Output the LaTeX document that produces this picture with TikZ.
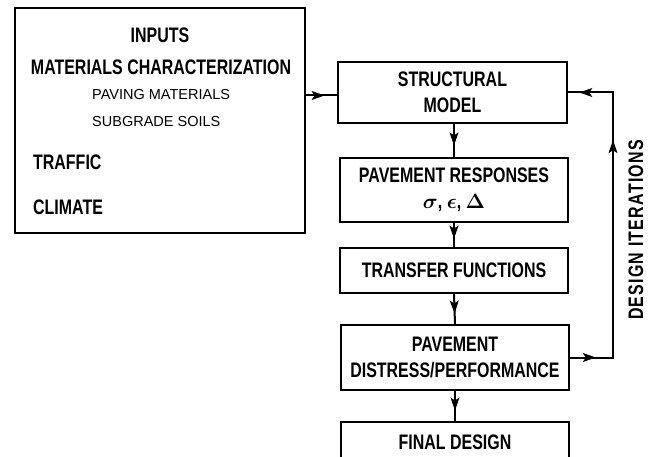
\documentclass[tikz,border=0pt]{standalone}
\usepackage{fontspec}
\setmainfont{Liberation Sans}
\newfontfamily\cond[FakeStretch=0.76]{Liberation Sans}
\usetikzlibrary{arrows.meta,decorations.markings,calc}
\tikzset{
  box/.style={draw,line width=2.2pt,rectangle,inner sep=0pt,align=center,
    font=\cond\bfseries\fontsize{21}{26}\selectfont},
  big/.style={font=\cond\bfseries\fontsize{21}{26}\selectfont,inner sep=0pt},
  small/.style={font=\fontsize{14.5}{17}\selectfont,inner sep=0pt},
  conn/.style={line width=2pt},
  midarrow/.style={conn,postaction={decorate},decoration={markings,
    mark=at position #1 with {\arrow[line width=1pt]{Stealth[length=13pt,width=9pt,inset=3pt]}}}},
}
\begin{document}
\begin{tikzpicture}[x=1pt,y=-1pt]
\clip (0,0) rectangle (650,457);
% input box
\node[box,minimum width=290pt,minimum height=225pt] (inp) at (160,120.5) {};
\node[big,anchor=base] (t1) at (160,43) {INPUTS};
\node[big,anchor=base] (t2) at (161,75) {MATERIALS CHARACTERIZATION};
\node[small,anchor=base west] (t3) at (92,100) {PAVING MATERIALS};
\node[small,anchor=base west] (t4) at (92,127) {SUBGRADE SOILS};
\node[big,anchor=base west] (t5) at (33,169.5) {TRAFFIC};
\node[big,anchor=base west] (t6) at (33,214.5) {CLIMATE};
% right column
\node[box,minimum width=229pt,minimum height=61pt] (sm) at (452.5,92.5) {STRUCTURAL\\MODEL};
\node[box,minimum width=228pt,minimum height=64pt] (pr) at (454,190) {PAVEMENT RESPONSES\\{\boldmath$\sigma$, $\epsilon$, $\Delta$}};
\node[box,minimum width=228pt,minimum height=45pt] (tf) at (454,270.5) {TRANSFER FUNCTIONS};
\node[box,minimum width=228pt,minimum height=65pt] (dp) at (455,357.5) {PAVEMENT\\DISTRESS/PERFORMANCE};
\node[box,minimum width=228pt,minimum height=40pt] (fd) at (455,442) {FINAL DESIGN};
% connectors
\draw[midarrow=0.6] ([yshift=-3pt]inp.east |- sm.west) -- ([yshift=-3pt]sm.west);
\draw[midarrow=0.65] (sm.south -| pr.north) -- (pr.north);
\draw[midarrow=0.65] (pr.south) -- (tf.north);
\draw[midarrow=0.65] (tf.south) -- (dp.north);
\draw[midarrow=0.65] (dp.south) -- (fd.north);
% feedback loop
\coordinate (fx) at (613,0);
\coordinate (fb1) at (dp.east -| fx);
\coordinate (fb2) at (sm.east -| fx);
\draw[conn,line join=miter] (dp.east) -- (fb1) -- (fb2) -- (sm.east);
\draw[midarrow=0.6] (dp.east) -- (fb1);
\draw[midarrow=0.82] (fb1) -- (fb2);
\draw[midarrow=0.75] (fb2) -- (sm.east);
\node[big,rotate=90,font=\cond\bfseries\fontsize{21}{26}\selectfont\addfontfeature{LetterSpace=6}] (di) at (636,230) {DESIGN ITERATIONS};
\end{tikzpicture}
\end{document}
